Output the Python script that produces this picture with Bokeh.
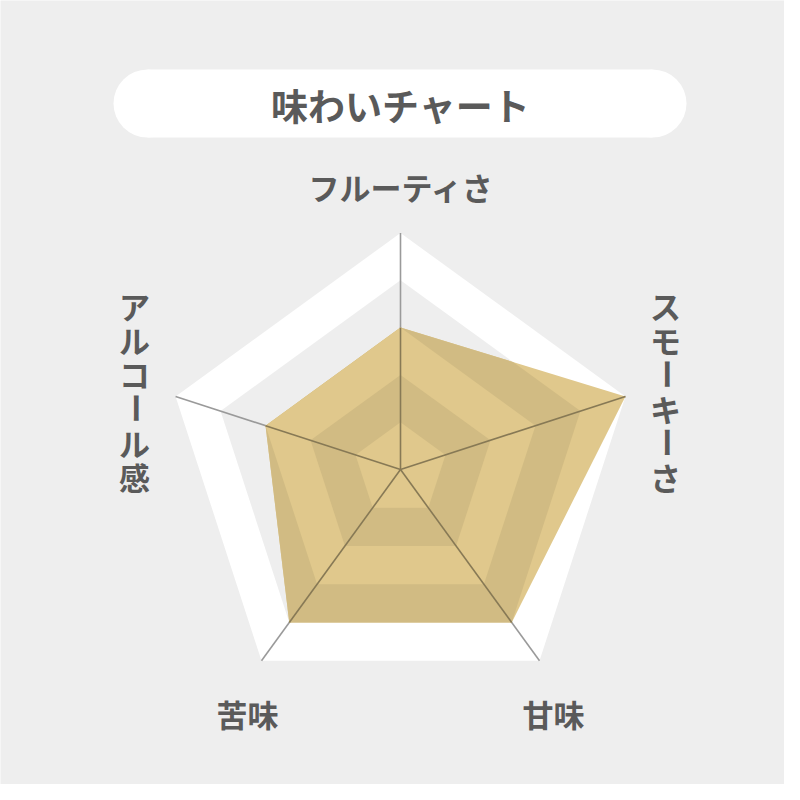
import numpy as np
from bokeh.plotting import figure
from bokeh.models import Range1d, ColumnDataSource
from bokeh.embed import file_html
from bokeh.resources import INLINE
from bokeh.core.properties import value

# ---------------- data ----------------
title_text = "味わいチャート"
categories = ["フルーティさ", "スモーキーさ", "甘味", "苦味", "アルコール感"]
scores = [3, 5, 4, 4, 3]
max_level = 5

# ---------------- style ----------------
BG = "#eeeeee"
WHITE = "#ffffff"
TAN = (224, 200, 140)
BG_RGB = (238, 238, 238)
SPOKE_RGB = (154, 154, 154)
TEXT = "#5a5a5a"
FONT = value("Noto Sans CJK JP")


def hexc(rgb):
    return "#%02x%02x%02x" % tuple(int(round(c)) for c in rgb)


def multiply(a, b):
    return tuple(x * y / 255.0 for x, y in zip(a, b))


TAN_LIGHT = hexc(TAN)
TAN_DARK = hexc(multiply(TAN, BG_RGB))
SPOKE = hexc(SPOKE_RGB)
SPOKE_DARK = hexc(multiply(TAN, SPOKE_RGB))

# geometry (in picture pixel units; y grows downward)
CX, CY, R = 400.0, 469.0, 236.5
n = len(categories)
angles = np.deg2rad(-90 + 360.0 / n * np.arange(n))
dirs = np.column_stack([np.cos(angles), np.sin(angles)])


def level_poly(level):
    return [(CX + level / max_level * R * d[0], CY + level / max_level * R * d[1]) for d in dirs]


def clip(subject, clip_poly):
    def cross(a, b, p):
        return (b[0] - a[0]) * (p[1] - a[1]) - (b[1] - a[1]) * (p[0] - a[0])

    def inter(p, q, a, b):
        x1, y1 = p; x2, y2 = q; x3, y3 = a; x4, y4 = b
        den = (x1 - x2) * (y3 - y4) - (y1 - y2) * (x3 - x4)
        t = ((x1 - x3) * (y3 - y4) - (y1 - y3) * (x3 - x4)) / den
        return (x1 + t * (x2 - x1), y1 + t * (y2 - y1))

    out = list(subject)
    m = len(clip_poly)
    for i in range(m):
        a = clip_poly[i]; b = clip_poly[(i + 1) % m]
        ref = cross(a, b, (CX, CY))
        inp = out; out = []
        if not inp:
            break
        for j in range(len(inp)):
            P = inp[j]; Q = inp[j - 1]
            pin = cross(a, b, P) * ref >= -1e-9
            qin = cross(a, b, Q) * ref >= -1e-9
            if pin:
                if not qin:
                    out.append(inter(Q, P, a, b))
                out.append(P)
            elif qin:
                out.append(inter(Q, P, a, b))
    return out


p = figure(width=784, height=784, x_range=Range1d(0, 784), y_range=Range1d(784, 0),
           output_backend="svg", toolbar_location=None, min_border=0)
p.axis.visible = False
p.grid.visible = False
p.outline_line_color = None
p.background_fill_color = BG
p.border_fill_color = BG

# title pill
PILL_L, PILL_R, PILL_T, PILL_B = 113, 686, 69, 137
pr = (PILL_B - PILL_T) / 2
p.rect(x=[(PILL_L + PILL_R) / 2], y=[(PILL_T + PILL_B) / 2], width=PILL_R - PILL_L - 2 * pr,
       height=PILL_B - PILL_T, fill_color=WHITE, line_color=None)
p.circle(x=[PILL_L + pr, PILL_R - pr], y=[(PILL_T + PILL_B) / 2] * 2, radius=pr,
         fill_color=WHITE, line_color=None)
p.text(x=[400], y=[104], text=[title_text], text_font=FONT,
       text_font_style="bold", text_font_size="37px", text_color=TEXT,
       text_align="center", text_baseline="middle")

# grid bands
for lvl in range(max_level, 0, -1):
    poly = level_poly(lvl)
    col = WHITE if (lvl % 2 == 1) else BG
    p.patch([q[0] for q in poly], [q[1] for q in poly], fill_color=col, line_color=None)

# outer spokes
outer = level_poly(max_level)
p.segment(x0=[CX] * n, y0=[CY] * n, x1=[q[0] for q in outer], y1=[q[1] for q in outer],
          line_color=SPOKE, line_width=1.6)

# data polygon (banded as if multiply-blended over the grid)
data_poly = [(CX + s / max_level * R * d[0], CY + s / max_level * R * d[1]) for s, d in zip(scores, dirs)]
for lvl in range(max_level, 0, -1):
    part = clip(data_poly, level_poly(lvl))
    if len(part) < 3:
        continue
    col = TAN_LIGHT if (lvl % 2 == 1) else TAN_DARK
    p.patch([q[0] for q in part], [q[1] for q in part], fill_color=col, line_color=None)

# inner spokes
p.segment(x0=[CX] * n, y0=[CY] * n, x1=[q[0] for q in data_poly], y1=[q[1] for q in data_poly],
          line_color=SPOKE_DARK, line_width=1.6)

# labels
LABEL_SIZE = "31px"
# horizontal labels: top, lower-right, lower-left
horiz = {0: (401, 186), 2: (553, 713), 3: (247, 713)}
hs = ColumnDataSource(dict(x=[v[0] for v in horiz.values()], y=[v[1] for v in horiz.values()],
                           t=[categories[k] for k in horiz]))
p.text(x="x", y="y", text="t", source=hs, text_font=FONT, text_font_style="bold",
       text_font_size=LABEL_SIZE, text_color=TEXT, text_align="center", text_baseline="middle")

# vertical labels: right (index 1) and left (index 4)
vert = {1: 665, 4: 134}
vx, vy, vt, va = [], [], [], []
for k, xpos in vert.items():
    for i, ch in enumerate(categories[k]):
        vx.append(xpos)
        vy.append(305 + 34.2 * i)
        vt.append(ch)
        va.append(np.pi / 2 if ch == "ー" else 0.0)
vs = ColumnDataSource(dict(x=vx, y=vy, t=vt, a=va))
p.text(x="x", y="y", text="t", angle="a", source=vs, text_font=FONT, text_font_style="bold",
       text_font_size=LABEL_SIZE, text_color=TEXT, text_align="center", text_baseline="middle")

open("out.html", "w").write(file_html(p, INLINE))
